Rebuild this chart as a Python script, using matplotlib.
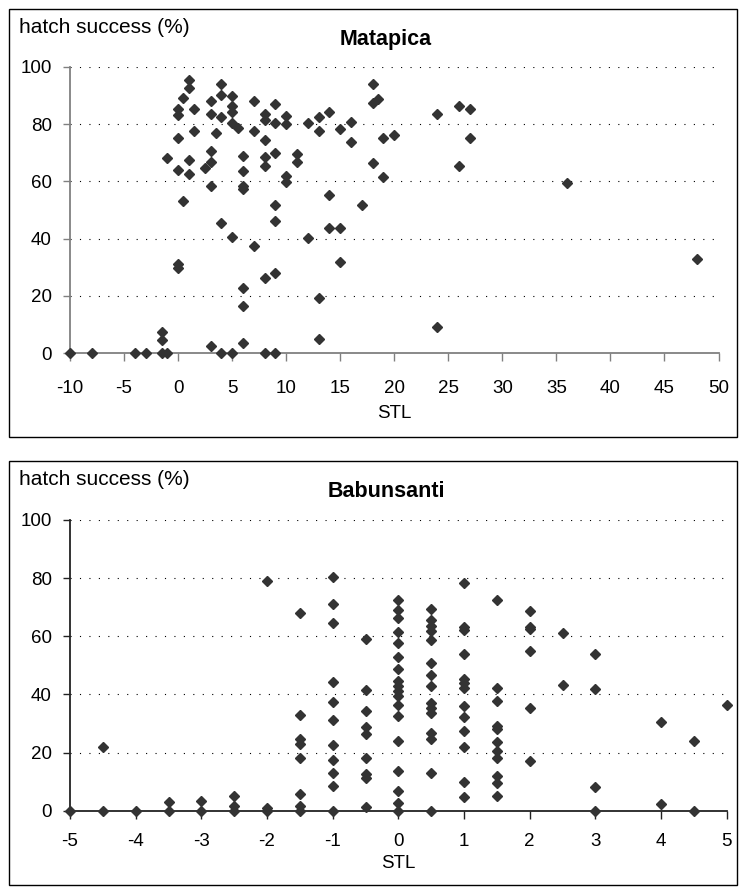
import matplotlib
matplotlib.use("Agg")
import matplotlib.pyplot as plt
from matplotlib.patches import Rectangle

plt.rcParams['font.family'] = ['Liberation Sans', 'DejaVu Sans']

# Matapica: STL vs hatch success (%)
mat_stl = [-10, -8, -4, -3, -1.5, -1, -1.5, -1.5, -1,
           0, 0, 0, 0, 0, 0,
           0.5, 0.5,
           1, 1, 1, 1,
           1.5, 1.5,
           2.5,
           3, 3, 3, 3, 3, 3,
           3.5,
           4, 4, 4, 4, 4,
           5, 5, 5, 5, 5, 5,
           5.5,
           6, 6, 6, 6, 6, 6, 6,
           7, 7, 7,
           8, 8, 8, 8, 8, 8, 8,
           9, 9, 9, 9, 9, 9, 9,
           10, 10, 10, 10,
           11, 11,
           12, 12,
           13, 13, 13, 13,
           14, 14, 14,
           15, 15, 15,
           16, 16,
           17,
           18, 18, 18,
           18.5,
           19, 19,
           20,
           24, 24,
           26, 26,
           27, 27,
           36,
           48]
mat_hs = [0, 0, 0, 0, 0, 0, 4.6, 7.5, 68,
          29.7, 31, 64, 75, 83.2, 85.2,
          53.2, 89,
          67.5, 62.5, 95.3, 92.5,
          85.2, 77.7,
          64.6,
          66.9, 70.7, 58.2, 2.5, 88.2, 83.5,
          77,
          94, 90.2, 82.6, 45.6, 0,
          40.7, 89.8, 86.3, 84.3, 80.3, 0,
          78.5,
          68.9, 63.7, 58.2, 57.2, 22.7, 16.5, 3.7,
          88.2, 77.7, 37.5,
          83.5, 81.4, 74.5, 68.6, 65.4, 26.2, 0,
          87, 80.3, 70, 51.8, 46.3, 28.1, 0,
          82.8, 79.9, 61.9, 59.9,
          69.6, 66.9,
          80.3, 40.1,
          82.6, 77.7, 19.2, 4.9,
          84.3, 55.3, 43.6,
          43.6, 78.2, 32,
          80.8, 73.9,
          51.8,
          94, 87.5, 66.3,
          88.6,
          75, 61.4,
          76.2,
          83.5, 9.3,
          86.3, 65.4,
          85.2, 75,
          59.3,
          32.8]

# Babunsanti: hatch success (%) grouped by STL value
bab_groups = {
    -5: [0],
    -4.5: [0, 21.9],
    -4: [0],
    -3.5: [0, 3.1],
    -3: [0, 3.2],
    -2.5: [0, 1.6, 5.0],
    -2: [0, 1, 79.1],
    -1.5: [0, 1.6, 5.8, 18.3, 23.1, 24.8, 32.8, 68.1],
    -1: [0, 8.6, 13, 17.4, 22.7, 31.1, 37.4, 44.3, 64.4, 71.1, 80.5],
    -0.5: [1.4, 11.2, 12.5, 18.0, 26.4, 28.7, 34.2, 41.4, 58.9],
    0: [0, 2.7, 6.8, 13.7, 23.9, 32.5, 36.3, 39.4, 41.2, 42.9, 44.6, 48.6,
        52.9, 57.8, 61.6, 66.4, 69.0, 72.4],
    0.5: [0, 12.9, 24.8, 26.6, 33.5, 35.2, 36.9, 43.0, 46.7, 50.7, 58.7,
          61.8, 63.6, 65.6, 69.4],
    1: [4.6, 10.0, 21.9, 27.3, 32.2, 36.0, 42.2, 43.9, 45.4, 54.0, 62.1,
        63.2, 78.4],
    1.5: [5.0, 9.5, 12, 18, 20.5, 23.6, 28.1, 29.3, 37.9, 42.2, 72.4],
    2: [17.2, 35.2, 55.0, 62.4, 63.2, 68.7],
    2.5: [43.3, 61.2],
    3: [0, 8.3, 42.0, 54.0],
    4: [2.2, 30.5],
    4.5: [0, 23.9],
    5: [36.3],
}
bab_stl = [k for k, v in bab_groups.items() for _ in v]
bab_hs = [h for v in bab_groups.values() for h in v]

W, H = 746, 888
fig = plt.figure(figsize=(W / 100, H / 100), dpi=100)


def px_box(x0, y0, x1, y1):
    return [x0 / W, 1 - y1 / H, (x1 - x0) / W, (y1 - y0) / H]


def panel(rect, box, x, y, xlim, xticks, title, axcol, xpad, lpad):
    # outer border of the chart area
    bx0, by0, bx1, by1 = box
    fig.patches.append(Rectangle((bx0 / W, 1 - by1 / H), (bx1 - bx0) / W,
                                 (by1 - by0) / H, transform=fig.transFigure,
                                 fill=False, edgecolor='black', lw=1.0))
    ax = fig.add_axes(px_box(*rect))
    ax.plot(x, y, linestyle='none', marker='D', markersize=5.3,
            color='#333333', markeredgecolor='#333333', clip_on=False, zorder=3)
    ax.set_xlim(*xlim)
    ax.set_ylim(0, 100)
    ax.set_xticks(xticks)
    ax.set_xticklabels([f"{t:g}" for t in xticks])
    ax.set_yticks(range(0, 101, 20))
    for g in range(20, 101, 20):
        ax.axhline(g, color='black', lw=0.8, linestyle=(0, (1, 7.5)), zorder=1)
    for s in ('top', 'right'):
        ax.spines[s].set_visible(False)
    for s in ('left', 'bottom'):
        ax.spines[s].set_color(axcol)
        ax.spines[s].set_linewidth(1.3)
    ax.tick_params(axis='x', direction='out', length=6, width=1, color=axcol,
                   pad=xpad, labelsize=13.5)
    ax.tick_params(axis='y', direction='out', length=5, width=1, color=axcol,
                   pad=8, labelsize=13.5)
    ax.set_xlabel('STL', fontsize=13.5, labelpad=lpad)
    fig.text((bx0 + 10) / W, 1 - (by0 + 9) / H, 'hatch success (%)',
             fontsize=15, va='top', ha='left')
    fig.text(386 / W, 1 - (by0 + 20) / H, title, fontsize=15.5,
             fontweight='bold', va='top', ha='center')
    return ax


panel((70, 66.7, 718.5, 353.3), (9, 9, 737, 437), mat_stl, mat_hs,
      (-10, 50), list(range(-10, 51, 5)), 'Matapica', '#808080', 13, 6)
panel((70, 520, 726.7, 810.7), (9, 461, 737, 885), bab_stl, bab_hs,
      (-5, 5), list(range(-5, 6)), 'Babunsanti', '#222222', 10, 4)

fig.savefig('out.png', dpi=100)
